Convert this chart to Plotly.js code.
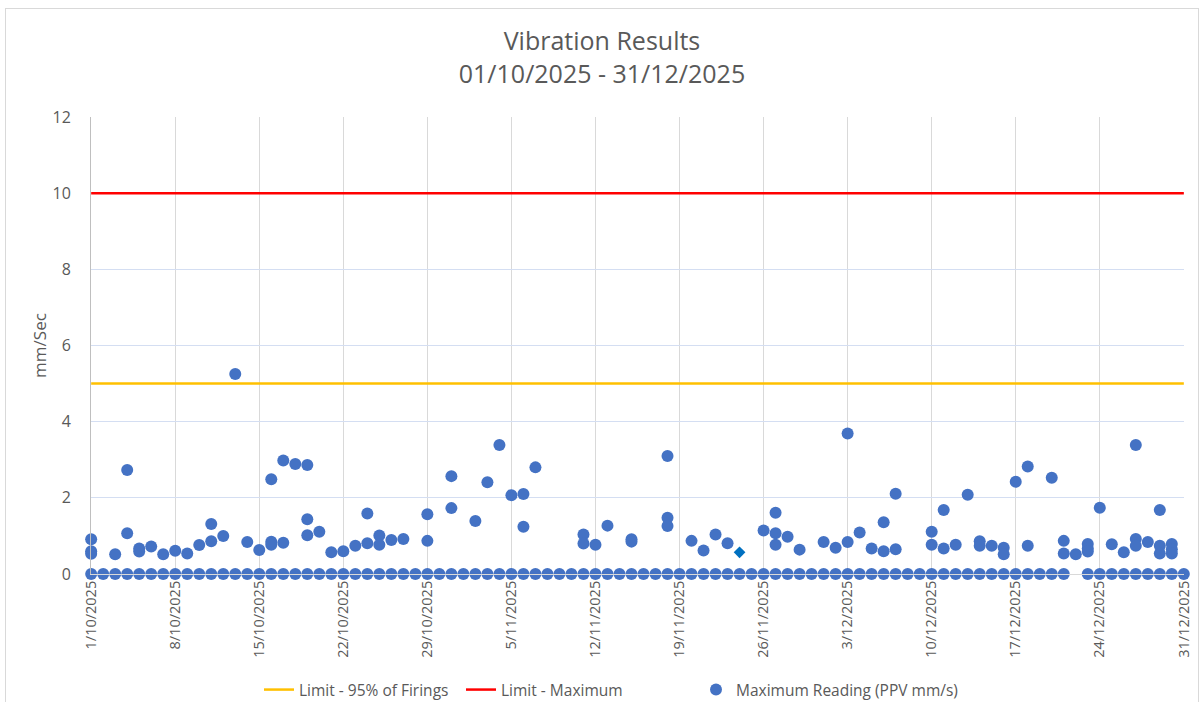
<!DOCTYPE html>
<html>
<head>
<meta charset="utf-8">
<script src="https://cdn.plot.ly/plotly-3.0.1.min.js"></script>
<style>
  html, body { margin: 0; padding: 0; background: #ffffff; }
  #wrap { position: relative; width: 1204px; height: 702px; overflow: hidden; }
  #frame { position: absolute; left: 5px; top: 8px; width: 1192px; height: 720px; border: 1px solid #D9D9D9; pointer-events: none; }
  #chart { position: absolute; left: 0; top: 0; width: 1204px; height: 702px; }
</style>
</head>
<body>
<div id="wrap">
  <div id="frame"></div>
  <div id="chart"></div>
</div>
<script>
// ---- Data ----
const limitDates = ['2025-10-01', '2025-12-31'];
const limit95 = [5, 5];
const limitMax = [10, 10];

// Days with a zero maximum reading (every day except 22/12)
const zeroDates = [
  '2025-10-01','2025-10-02','2025-10-03','2025-10-04','2025-10-05','2025-10-06','2025-10-07','2025-10-08','2025-10-09','2025-10-10',
  '2025-10-11','2025-10-12','2025-10-13','2025-10-14','2025-10-15','2025-10-16','2025-10-17','2025-10-18','2025-10-19','2025-10-20',
  '2025-10-21','2025-10-22','2025-10-23','2025-10-24','2025-10-25','2025-10-26','2025-10-27','2025-10-28','2025-10-29','2025-10-30','2025-10-31',
  '2025-11-01','2025-11-02','2025-11-03','2025-11-04','2025-11-05','2025-11-06','2025-11-07','2025-11-08','2025-11-09','2025-11-10',
  '2025-11-11','2025-11-12','2025-11-13','2025-11-14','2025-11-15','2025-11-16','2025-11-17','2025-11-18','2025-11-19','2025-11-20',
  '2025-11-21','2025-11-22','2025-11-23','2025-11-24','2025-11-25','2025-11-26','2025-11-27','2025-11-28','2025-11-29','2025-11-30',
  '2025-12-01','2025-12-02','2025-12-03','2025-12-04','2025-12-05','2025-12-06','2025-12-07','2025-12-08','2025-12-09','2025-12-10',
  '2025-12-11','2025-12-12','2025-12-13','2025-12-14','2025-12-15','2025-12-16','2025-12-17','2025-12-18','2025-12-19','2025-12-20',
  '2025-12-21','2025-12-23','2025-12-24','2025-12-25','2025-12-26','2025-12-27','2025-12-28','2025-12-29','2025-12-30','2025-12-31'
];
const zeroValues = zeroDates.map(() => 0);

// Non-zero maximum readings (PPV mm/s)
const readingDates = [
  '2025-10-01','2025-10-01','2025-10-01','2025-10-03','2025-10-04','2025-10-04','2025-10-05','2025-10-05','2025-10-06','2025-10-07',
  '2025-10-08','2025-10-09','2025-10-10','2025-10-11','2025-10-11','2025-10-12','2025-10-13','2025-10-14','2025-10-15','2025-10-16',
  '2025-10-16','2025-10-16','2025-10-17','2025-10-17','2025-10-18','2025-10-19','2025-10-19','2025-10-19','2025-10-20','2025-10-21',
  '2025-10-22','2025-10-23','2025-10-24','2025-10-24','2025-10-25','2025-10-25','2025-10-26','2025-10-27','2025-10-29','2025-10-29',
  '2025-10-31','2025-10-31','2025-11-02','2025-11-03','2025-11-04','2025-11-05','2025-11-06','2025-11-06','2025-11-07','2025-11-11',
  '2025-11-11','2025-11-12','2025-11-13','2025-11-15','2025-11-15','2025-11-18','2025-11-18','2025-11-18','2025-11-20','2025-11-21',
  '2025-11-22','2025-11-23','2025-11-24','2025-11-26','2025-11-27','2025-11-27','2025-11-27','2025-11-28','2025-11-29','2025-12-01',
  '2025-12-02','2025-12-03','2025-12-03','2025-12-04','2025-12-05','2025-12-06','2025-12-06','2025-12-07','2025-12-07','2025-12-10',
  '2025-12-10','2025-12-11','2025-12-11','2025-12-12','2025-12-13','2025-12-14','2025-12-14','2025-12-15','2025-12-16','2025-12-16',
  '2025-12-17','2025-12-18','2025-12-18','2025-12-20','2025-12-21','2025-12-21','2025-12-22','2025-12-23','2025-12-23','2025-12-23',
  '2025-12-24','2025-12-25','2025-12-26','2025-12-27','2025-12-27','2025-12-27','2025-12-28','2025-12-29','2025-12-29','2025-12-29',
  '2025-12-30','2025-12-30','2025-12-30'
];
const readingValues = [
  0.91, 0.60, 0.53, 0.52, 2.73, 1.07, 0.67, 0.59, 0.72, 0.52,
  0.61, 0.54, 0.76, 1.31, 0.86, 1.00, 5.25, 0.84, 0.63, 2.49,
  0.85, 0.77, 2.98, 0.82, 2.89, 2.86, 1.44, 1.02, 1.11, 0.57,
  0.60, 0.74, 1.59, 0.81, 1.01, 0.77, 0.89, 0.92, 1.57, 0.87,
  2.57, 1.73, 1.39, 2.41, 3.39, 2.07, 2.10, 1.24, 2.80, 1.04,
  0.80, 0.77, 1.27, 0.91, 0.85, 3.10, 1.48, 1.26, 0.87, 0.62,
  1.04, 0.81, 0.57, 1.14, 1.61, 1.07, 0.77, 0.98, 0.64, 0.84,
  0.69, 3.69, 0.84, 1.09, 0.67, 1.36, 0.60, 2.11, 0.65, 1.11,
  0.77, 1.68, 0.67, 0.77, 2.08, 0.86, 0.74, 0.74, 0.69, 0.52,
  2.42, 2.82, 0.74, 2.53, 0.87, 0.54, 0.52, 0.79, 0.67, 0.59,
  1.74, 0.78, 0.57, 3.39, 0.92, 0.74, 0.84, 1.68, 0.74, 0.54,
  0.79, 0.65, 0.54
];
// The single highlighted reading (drawn as a diamond)
const highlightDate = '2025-11-24';

// ---- Build traces ----
const allDates = zeroDates.concat(readingDates);
const allValues = zeroValues.concat(readingValues);
const symbols = allDates.map((d, i) => (i >= zeroDates.length && d === highlightDate) ? 'diamond' : 'circle');
const colors = symbols.map(s => s === 'diamond' ? '#0070C0' : '#4472C4');
const sizes = symbols.map(s => s === 'diamond' ? 9 : 12);

const grey = '#595959';
const font = 'Open Sans, Liberation Sans, sans-serif';
const legendFont = { family: font, size: 15.5, color: grey };

const traces = [
  {
    x: limitDates, y: limit95, type: 'scatter', mode: 'lines',
    name: 'Limit - 95% of Firings', legend: 'legend',
    line: { color: '#FFC000', width: 2.5 }
  },
  {
    x: limitDates, y: limitMax, type: 'scatter', mode: 'lines',
    name: 'Limit - Maximum', legend: 'legend3',
    line: { color: '#FF0000', width: 2.5 }
  },
  {
    x: allDates, y: allValues, type: 'scatter', mode: 'markers',
    name: 'Maximum Reading (PPV mm/s)', legend: 'legend2',
    cliponaxis: false,
    marker: { color: colors, size: sizes, symbol: symbols, opacity: 1, line: { width: 0 } }
  }
];

function legendAt(px) {
  return {
    orientation: 'h', x: px / 1204, xref: 'container', xanchor: 'left',
    y: 12 / 702, yref: 'container', yanchor: 'middle',
    font: legendFont, bgcolor: 'rgba(0,0,0,0)'
  };
}

const layout = {
  width: 1204, height: 702,
  paper_bgcolor: 'rgba(0,0,0,0)',
  plot_bgcolor: '#ffffff',
  margin: { l: 91, r: 20, t: 117, b: 128 },
  font: { family: font, color: grey, size: 14 },
  showlegend: true,
  title: {
    text: 'Vibration Results<br>01/10/2025 - 31/12/2025',
    font: { family: font, size: 25, color: grey },
    x: 0.5, xref: 'container', xanchor: 'center',
    y: 1 - 50 / 702, yref: 'container', yanchor: 'top'
  },
  xaxis: {
    type: 'date',
    range: ['2025-09-30 23:40', '2025-12-31 00:20'],
    tick0: '2025-10-01', dtick: 7 * 86400000,
    tickformat: '%-d/%m/%Y',
    tickangle: -90,
    tickfont: { family: font, size: 14.5, color: grey },
    showgrid: true, gridcolor: '#D9D9D9', gridwidth: 1,
    showline: true, linecolor: '#D9D9D9', linewidth: 1,
    ticks: '', zeroline: false,
    fixedrange: true
  },
  yaxis: {
    range: [0, 12], dtick: 2,
    title: { text: 'mm/Sec', font: { family: font, size: 17, color: grey }, standoff: 1 },
    tickfont: { family: font, size: 16, color: grey },
    showgrid: true, gridcolor: '#D4DEF2', gridwidth: 1,
    showline: true, linecolor: '#BFBFBF', linewidth: 1,
    zeroline: false, ticks: '', ticklabelstandoff: 16,
    fixedrange: true
  },
  legend: legendAt(259),
  legend3: legendAt(461),
  legend2: legendAt(696)
};

Plotly.newPlot('chart', traces, layout, { staticPlot: true, displayModeBar: false });
</script>
</body>
</html>
